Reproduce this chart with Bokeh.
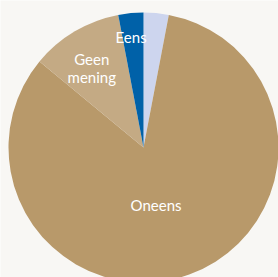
import math
from bokeh.plotting import figure
from bokeh.models import ColumnDataSource
from bokeh.core.properties import value
from bokeh.embed import file_html
from bokeh.resources import INLINE

# Data (clockwise from 12 o'clock)
categories = ["Weet niet", "Oneens", "Geen mening", "Eens"]
values = [3, 83, 11, 3]
colors = ["#cdd5ee", "#b8996a", "#c4aa84", "#0061a8"]
labels = ["", "Oneens", "Geen\nmening", "Eens"]
label_r = [0.0, 0.45, 0.68, 0.82]
label_dx = [0, -8, -5, -2]

W, H = 278, 277
cx, cy, R = 143, 130, 135

total = float(sum(values))
starts, ends, lx, ly = [], [], [], []
cum = 0.0
for v, lr in zip(values, label_r):
    a0 = math.pi / 2 - 2 * math.pi * cum / total
    cum += v
    a1 = math.pi / 2 - 2 * math.pi * cum / total
    starts.append(a0)
    ends.append(a1)
    mid = (a0 + a1) / 2
    lx.append(cx + lr * R * math.cos(mid))
    ly.append(cy + lr * R * math.sin(mid))

src = ColumnDataSource(dict(cat=categories, val=values, color=colors,
                            start=starts, end=ends, lx=lx, ly=ly,
                            label=labels, dx=label_dx))

bg = "#f8f7f4"
p = figure(width=W, height=H, x_range=(0, W), y_range=(0, H),
           output_backend="svg", toolbar_location=None, min_border=0,
           background_fill_color=bg, border_fill_color=bg)
p.axis.visible = False
p.grid.visible = False
p.outline_line_color = None

p.wedge(x=cx, y=cy, radius=R, start_angle="start", end_angle="end",
        direction="clock", fill_color="color", line_color=None, source=src)

p.text(x="lx", y="ly", text="label", source=src, text_color="white",
       x_offset="dx",
       text_font=value("Lato"), text_font_size="15px", text_font_style="normal",
       text_align="center", text_baseline="middle", text_line_height=1.0)

open("out.html", "w").write(file_html(p, INLINE))
